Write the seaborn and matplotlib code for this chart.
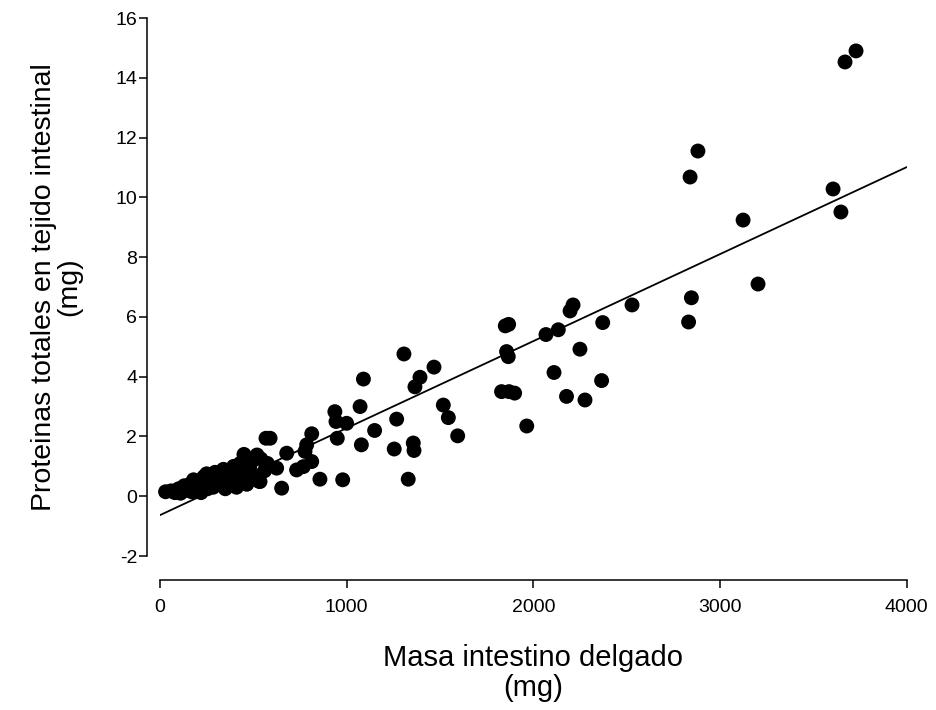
import matplotlib
matplotlib.use("Agg")
import matplotlib.pyplot as plt
import numpy as np
import pandas as pd
import seaborn as sns

# ---- data ----
masa_mg = [
    # dense cluster near the origin
    30, 60, 80, 100, 110, 130, 140, 160, 170, 180, 195, 210, 220, 235, 240,
    250, 255, 265, 275, 285, 295, 305, 320, 330, 340, 350, 360, 370, 385,
    395, 400, 410, 420, 430, 440, 450, 455, 465, 480, 490, 500, 520, 530,
    540, 560, 575,
    # lower-middle
    568, 590, 536, 625, 652, 679, 732, 768, 777, 786, 813, 813, 857,
    937, 943, 950, 979, 1000, 1072, 1079, 1090, 1150, 1255, 1268, 1307,
    1330, 1357, 1361, 1366, 1393, 1468, 1518, 1545, 1595,
    # middle / upper
    1830, 1850, 1857, 1866, 1868, 1870, 1900, 1965, 2068, 2111, 2134,
    2178, 2197, 2213, 2250, 2277, 2366, 2372, 2529, 2832, 2840, 2847,
    2882, 3124, 3204, 3606, 3648, 3670, 3729,
]
proteinas_mg = [
    0.15, 0.18, 0.12, 0.25, 0.10, 0.35, 0.20, 0.40, 0.15, 0.55, 0.30, 0.45,
    0.12, 0.65, 0.35, 0.75, 0.25, 0.50, 0.70, 0.30, 0.80, 0.55, 0.40, 0.70,
    0.90, 0.25, 0.60, 0.80, 0.45, 1.00, 0.70, 0.30, 0.90, 1.10, 0.55, 1.40,
    0.75, 0.40, 0.95, 1.15, 0.65, 1.38, 0.50, 1.25, 0.85, 1.10,
    1.94, 1.94, 0.49, 0.94, 0.27, 1.44, 0.88, 0.99, 1.50, 1.72, 2.09, 1.16,
    0.57,
    2.83, 2.50, 1.94, 0.55, 2.44, 3.00, 1.72, 3.92, 2.20, 1.58, 2.58, 4.76,
    0.57, 1.78, 1.53, 3.66, 3.98, 4.32, 3.05, 2.63, 2.02,
    3.50, 5.70, 4.84, 4.67, 5.75, 3.50, 3.45, 2.35, 5.41, 4.14, 5.57,
    3.34, 6.20, 6.40, 4.92, 3.22, 3.87, 5.81, 6.40, 5.83, 10.68, 6.64,
    11.55, 9.24, 7.10, 10.28, 9.51, 14.53, 14.90,
]
x_ticks = [0, 1000, 2000, 3000, 4000]
y_ticks = [-2, 0, 2, 4, 6, 8, 10, 12, 14, 16]

df = pd.DataFrame({"masa": masa_mg, "proteinas": proteinas_mg})

sns.set_theme(style="ticks")
plt.rcParams["font.family"] = ["Liberation Sans", "DejaVu Sans"]
plt.rcParams["text.color"] = "black"
plt.rcParams["axes.labelcolor"] = "black"

fig = plt.figure(figsize=(9.36, 7.10), dpi=100)
ax = fig.add_axes([0.1709, 0.2169, 0.7977, 0.7577])
ax.set_xlim(0, 4000)
ax.set_ylim(-2, 16)

sns.regplot(
    data=df, x="masa", y="proteinas", ax=ax, ci=None, truncate=False,
    scatter_kws=dict(s=115, color="black", edgecolors="none", alpha=1,
                     clip_on=False, zorder=3),
    line_kws=dict(color="black", lw=1.3),
)
ax.set_xlim(0, 4000)
ax.set_ylim(-2, 16)

ax.set_xticks(x_ticks)
ax.set_yticks(y_ticks)
ax.set_xticklabels([str(v) for v in x_ticks])
ax.set_yticklabels([str(v) for v in y_ticks])

for s in ("top", "right"):
    ax.spines[s].set_visible(False)
ax.spines["left"].set_position(("outward", 9))
ax.spines["bottom"].set_position(("outward", 17))
ax.spines["left"].set_bounds(-2, 16)
ax.spines["bottom"].set_bounds(0, 4000)
for s in ("left", "bottom"):
    ax.spines[s].set_linewidth(1.1)
    ax.spines[s].set_color("black")

ax.tick_params(axis="both", direction="out", length=6, width=1.1,
               labelsize=14, colors="black")
ax.tick_params(axis="y", pad=1.5)
ax.tick_params(axis="x", pad=8)

ax.set_xlabel("Masa intestino delgado\n(mg)", fontsize=21, labelpad=20,
              linespacing=1.1)
ax.set_ylabel("Proteinas totales en tejido intestinal\n(mg)", fontsize=20.5,
              labelpad=24, linespacing=0.95)

fig.savefig("out.png", dpi=100, facecolor="white")
